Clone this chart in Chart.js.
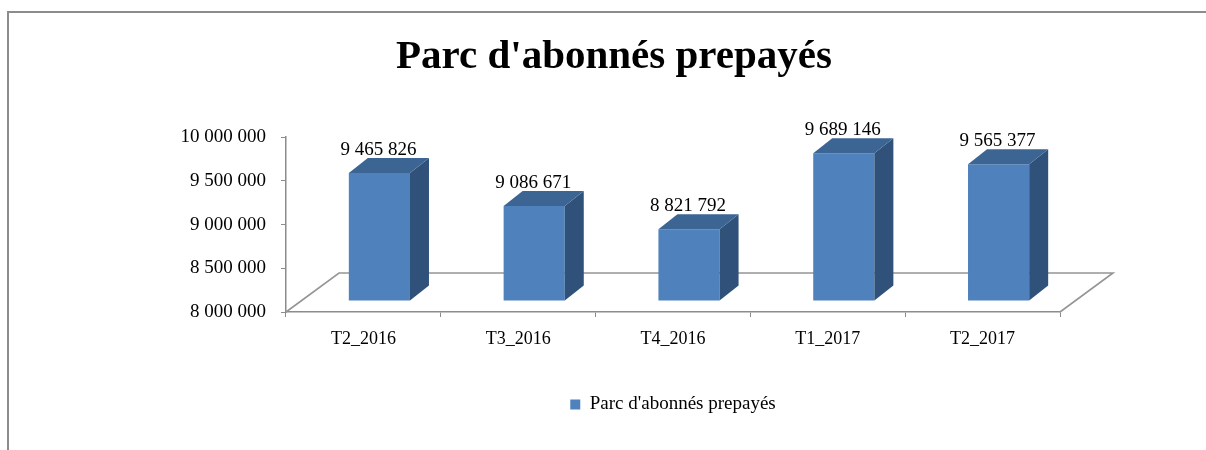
<!DOCTYPE html>
<html>
<head>
<meta charset="utf-8">
<script src="https://cdn.jsdelivr.net/npm/chart.js@4"></script>
<style>
    html, body { margin: 0; padding: 0; background: #fff; overflow: hidden; }
    #wrap  { position: relative; width: 1206px; height: 450px; }
    #frame { position: absolute; left: 7px; top: 11px; width: 1300px; height: 600px;
             border-top: 2px solid #8c8c8c; border-left: 2px solid #8c8c8c; }
    #chart { position: absolute; left: 0; top: 0; }
</style>
</head>
<body>
<div id="wrap">
    <div id="frame"></div>
    <canvas id="chart" width="1206" height="450"></canvas>
</div>
<script>
const categories  = ['T2_2016', 'T3_2016', 'T4_2016', 'T1_2017', 'T2_2017'];
const subscribers = [9465826, 9086671, 8821792, 9689146, 9565377];
const seriesLabel = "Parc d'abonnés prepayés";
const yMin  = 8000000;
const yMax  = 10000000;
const yStep = 500000;

const SERIF = '"Liberation Serif", "Times New Roman", serif';
const BLUE  = { front: '#4F81BD', top: '#3C6594', side: '#30527A' };
const GRAY  = '#8c8c8c';

// 3D look: bars sit back in the floor, floor is a parallelogram
const SHIFT = { x: 16, y: -11 };
const BAR_DEPTH   = { x: 19, y: -15 };
const FLOOR_DEPTH = { x: 53, y: -39 };

const fmt = v => String(v).replace(/\B(?=(\d{3})+(?!\d))/g, ' ');

const poly = (ctx, pts, fill) => {
    ctx.beginPath();
    ctx.moveTo(pts[0][0], pts[0][1]);
    pts.slice(1).forEach(p => ctx.lineTo(p[0], p[1]));
    ctx.closePath();
    ctx.fillStyle = fill;
    ctx.fill();
};

const bars3d = {
    id: 'bars3d',
    beforeDatasetsDraw(chart) {
        const { ctx, chartArea: a } = chart;
        ctx.save();
        ctx.strokeStyle = '#959595';
        ctx.lineWidth = 1.6;
        ctx.beginPath();
        ctx.moveTo(a.left, a.bottom);
        ctx.lineTo(a.left + FLOOR_DEPTH.x, a.bottom + FLOOR_DEPTH.y);
        ctx.lineTo(a.right + FLOOR_DEPTH.x, a.bottom + FLOOR_DEPTH.y);
        ctx.lineTo(a.right, a.bottom);
        ctx.stroke();
        ctx.restore();

        ctx.save();
        ctx.translate(SHIFT.x, SHIFT.y);
    },
    afterDatasetsDraw(chart) {
        const { ctx } = chart;
        ctx.restore();

        const meta = chart.getDatasetMeta(0);
        ctx.save();
        meta.data.forEach((bar, i) => {
            const left   = bar.x - bar.width / 2 + SHIFT.x;
            const right  = bar.x + bar.width / 2 + SHIFT.x;
            const top    = bar.y + SHIFT.y;
            const bottom = bar.base + SHIFT.y;
            const dx = BAR_DEPTH.x, dy = BAR_DEPTH.y;

            poly(ctx, [[right, top], [right + dx, top + dy], [right + dx, bottom + dy], [right, bottom]], BLUE.side);
            poly(ctx, [[left, top], [left + dx, top + dy], [right + dx, top + dy], [right, top]], BLUE.top);

            ctx.fillStyle = '#000';
            ctx.font = `19px ${SERIF}`;
            ctx.textAlign = 'center';
            ctx.textBaseline = 'alphabetic';
            ctx.fillText(fmt(subscribers[i]), bar.x + SHIFT.x - 1, top - 18);
        });
        ctx.restore();
    },
};

new Chart(document.getElementById('chart').getContext('2d'), {
    type: 'bar',
    data: {
        labels: categories,
        datasets: [{
            label:           seriesLabel,
            data:            subscribers,
            base:            yMin,
            backgroundColor: BLUE.front,
            borderWidth:     0,
            barPercentage:   0.395,
            categoryPercentage: 1,
            clip:            false,
        }],
    },
    plugins: [bars3d],
    options: {
        responsive: false,
        animation: false,
        devicePixelRatio: 1,
        layout: { padding: { left: 22, right: 0, top: 0, bottom: 26 } },
        scales: {
            x: {
                grid: {
                    display: true, drawOnChartArea: false, drawTicks: true,
                    tickLength: 5, color: GRAY, offset: true,
                },
                border: { display: true, color: GRAY, width: 1.5 },
                ticks: {
                    color: '#000', padding: 11, maxRotation: 0,
                    font: { family: SERIF, size: 18 },
                },
                afterFit: s => { s.height = 50; },
            },
            y: {
                min: yMin,
                max: yMax,
                grid: {
                    display: true, drawOnChartArea: false, drawTicks: true,
                    tickLength: 5, color: GRAY,
                },
                border: { display: true, color: GRAY, width: 1.5 },
                ticks: {
                    stepSize: yStep, color: '#000', padding: 15,
                    font: { family: SERIF, size: 19 },
                    callback: v => fmt(v),
                },
                afterFit: s => { s.width = 264; },
            },
            yR: {
                position: 'right',
                display: true,
                grid:   { display: false },
                border: { display: false },
                ticks:  { display: false },
                afterFit: s => { s.width = 146; },
            },
        },
        plugins: {
            title: {
                display: true,
                text:    seriesLabel,
                color:   '#000',
                font:    { family: SERIF, size: 41, weight: 'bold' },
                padding: { top: 33, bottom: 55 },
            },
            legend: {
                position: 'bottom',
                fullSize: false,
                labels: {
                    color: '#000', boxWidth: 10, boxHeight: 10, padding: 33,
                    font: { family: SERIF, size: 19 },
                },
            },
            tooltip: { enabled: false },
        },
    },
});
</script>
</body>
</html>
